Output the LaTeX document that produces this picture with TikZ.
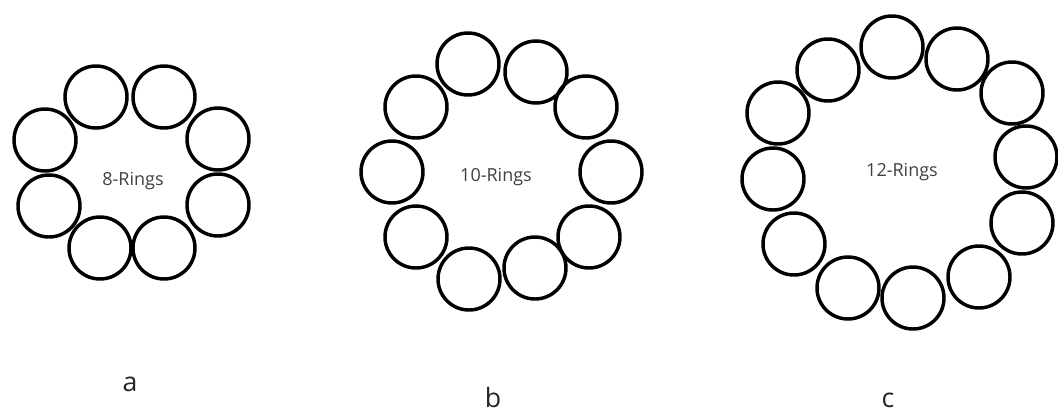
\documentclass[tikz,border=0pt]{standalone}
\usepackage{fontspec}
\setmainfont{Open Sans}
\usetikzlibrary{positioning}

\begin{document}
\begin{tikzpicture}[x=0.75pt, y=-0.75pt,
    ring/.style={draw, circle, line width=2.6pt, minimum size=46.5pt, inner sep=0pt},
    ringlabel/.style={font=\fontsize{13.5}{16}\selectfont, text=black!75},
    caption/.style={font=\fontsize{20}{24}\selectfont, text=black!85}]

  \useasboundingbox (0,0) rectangle (1058,412);

  % Define rings
  \foreach \p [count=\i] in {(96,97),(164,97),(218,139),(218,205),(164,248),(100,248),(49,206),(45,140)}
    \node (a\i) [ring] at \p {};
  \foreach \p [count=\i] in {(468,64),(536,72),(586,107),(611,172),(589,237),(535,268),(469,279),(416,237),(392,172),(416,107)}
    \node (b\i) [ring] at \p {};
  \foreach \p [count=\i] in {(892,47),(957,59),(1012,93),(1026,157),(1022,223),(979,277),(913,298),(848,288),(794,244),(773,179),(778,113),(828,70)}
    \node (c\i) [ring] at \p {};

  % Add labels inside rings
  \node (la) [ringlabel] at (133,181) {8-Rings};
  \node (lb) [ringlabel] at (496,177) {10-Rings};
  \node (lc) [ringlabel] at (902,172) {12-Rings};

  % Captions
  \node (ca) [caption] at (130,384) {a};
  \node (cb) [caption] at (493,397) {b};
  \node (cc) [caption] at (888,400) {c};
\end{tikzpicture}
\end{document}
